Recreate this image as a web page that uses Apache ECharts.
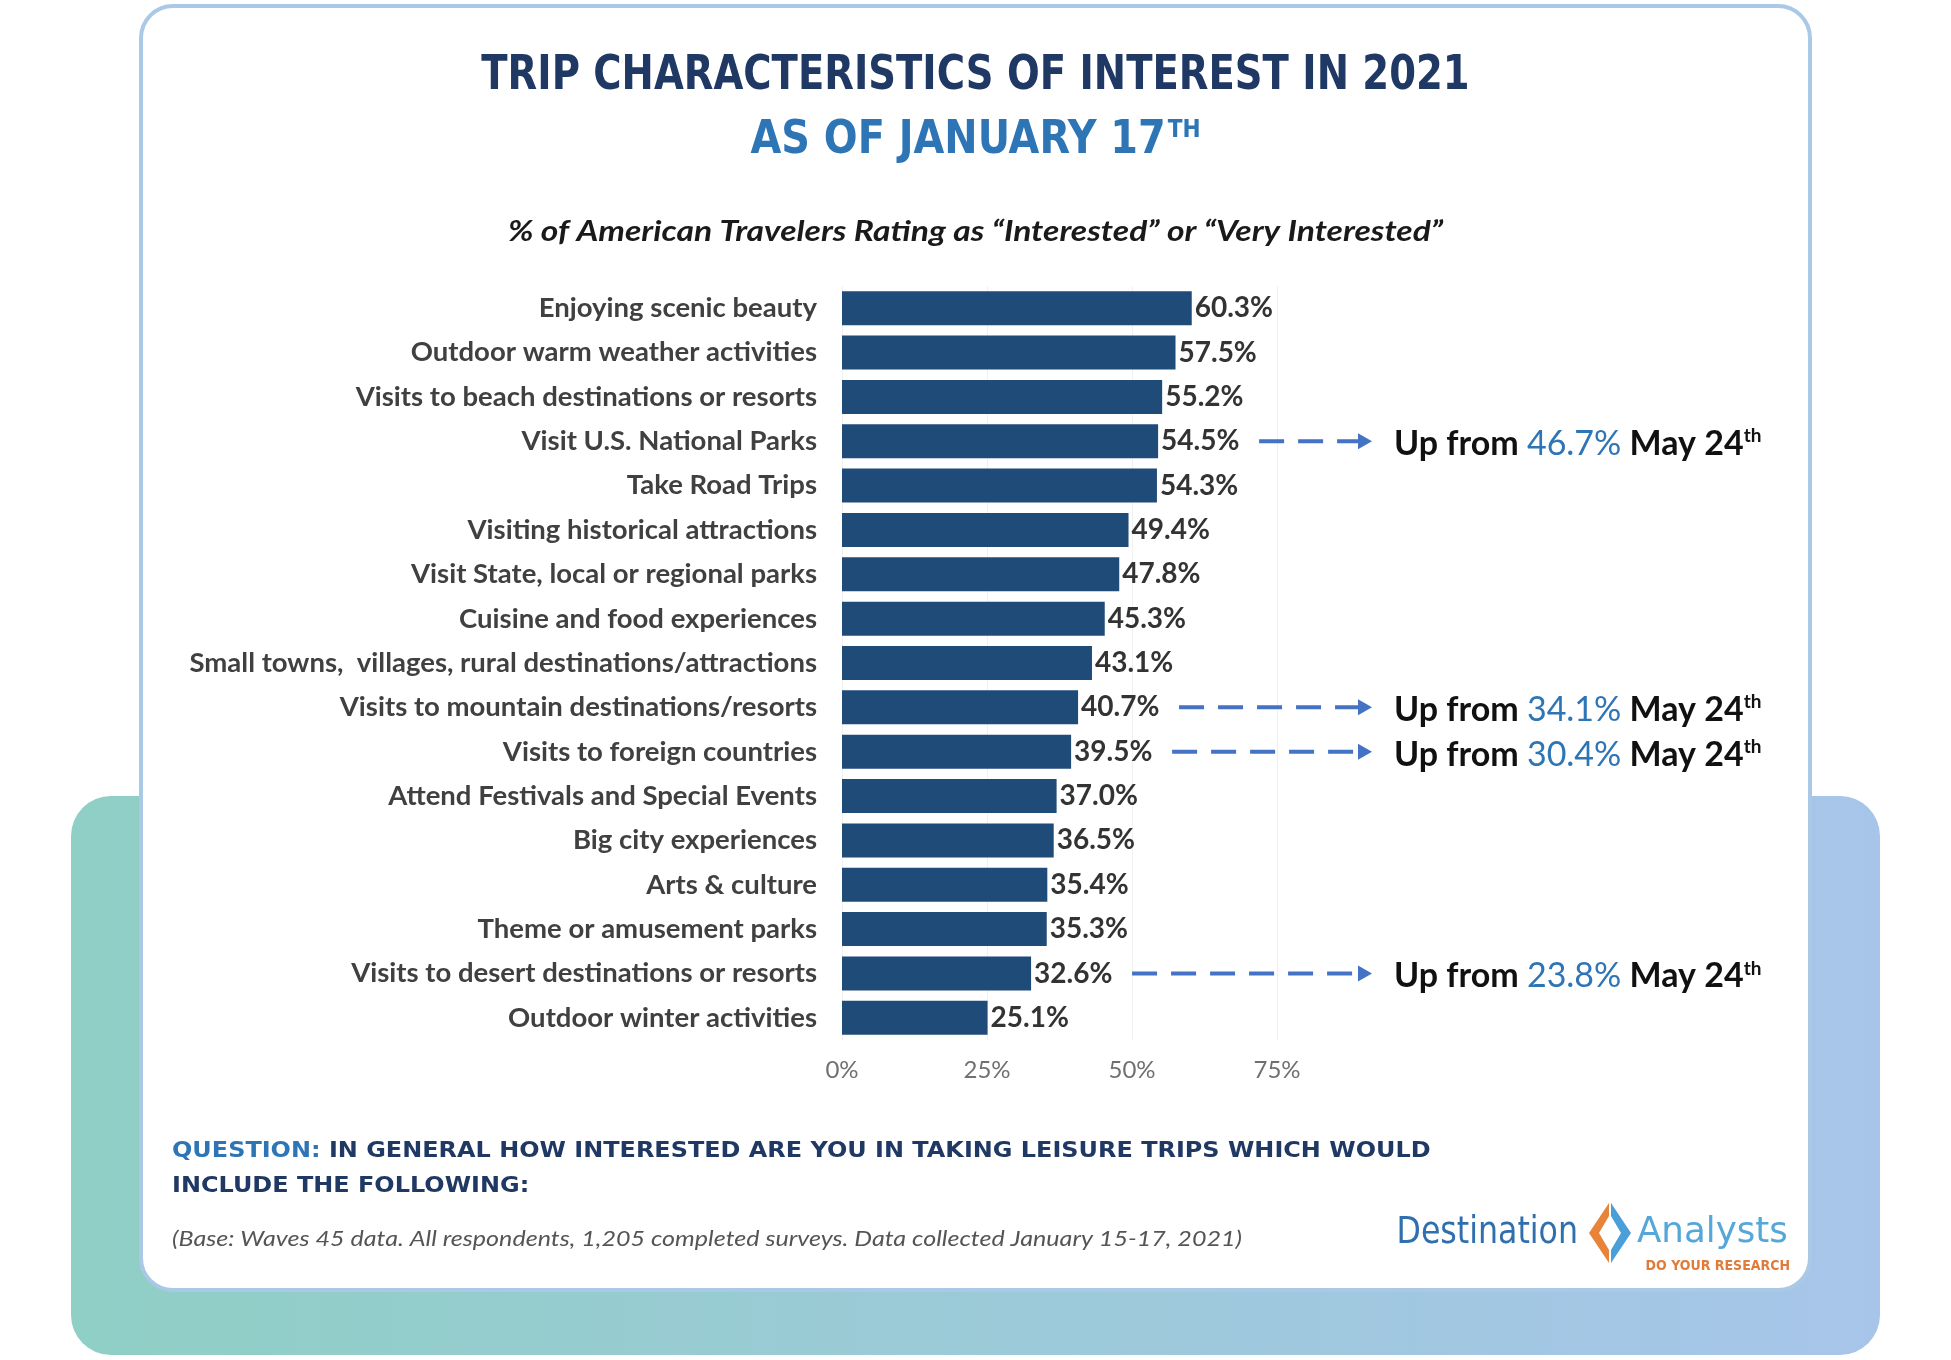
<!DOCTYPE html>
<html>
<head>
<meta charset="utf-8">
<script src="https://cdn.jsdelivr.net/npm/echarts@6/dist/echarts.min.js"></script>
<style>
html,body{margin:0;padding:0;background:#ffffff;}
#chart{width:1951px;height:1360px;}
</style>
</head>
<body>
<div id="chart"></div>
<script>
// ---------- DATA ----------
const categories = [
  'Enjoying scenic beauty',
  'Outdoor warm weather activities',
  'Visits to beach destinations or resorts',
  'Visit U.S. National Parks',
  'Take Road Trips',
  'Visiting historical attractions',
  'Visit State, local or regional parks',
  'Cuisine and food experiences',
  'Small towns,  villages, rural destinations/attractions',
  'Visits to mountain destinations/resorts',
  'Visits to foreign countries',
  'Attend Festivals and Special Events',
  'Big city experiences',
  'Arts & culture',
  'Theme or amusement parks',
  'Visits to desert destinations or resorts',
  'Outdoor winter activities'
];
const values = [60.3, 57.5, 55.2, 54.5, 54.3, 49.4, 47.8, 45.3, 43.1, 40.7, 39.5, 37.0, 36.5, 35.4, 35.3, 32.6, 25.1];
const annotatedCategories = ['Visit U.S. National Parks', 'Visits to mountain destinations/resorts', 'Visits to foreign countries', 'Visits to desert destinations or resorts'];
const may24Values = [46.7, 34.1, 30.4, 23.8];
const xTickMin = 0, xTickMax = 75, xTickStep = 25;

const titleLine1 = 'TRIP CHARACTERISTICS OF INTEREST IN 2021';
const titleLine2 = 'AS OF JANUARY 17';
const subTitle = '% of American Travelers Rating as \u201CInterested\u201D or \u201CVery Interested\u201D';
const questionLabel = 'QUESTION:';
const questionLine1 = ' IN GENERAL HOW INTERESTED ARE YOU IN TAKING LEISURE TRIPS WHICH WOULD';
const questionLine2 = 'INCLUDE THE FOLLOWING:';
const baseNote = '(Base: Waves 45 data. All respondents, 1,205 completed surveys. Data collected January 15-17, 2021)';

// ---------- BUILD ----------
const annotationData = annotatedCategories.map((c, i) => {
  const idx = categories.indexOf(c);
  return [values[idx], idx, may24Values[i]];
});

const navy = '#1f3864';
const blue = '#2e75b6';
const barColor = '#1f4b78';
const condensed = '"Liberation Sans Narrow","DejaVu Sans Condensed","Roboto",sans-serif';

const chart = echarts.init(document.getElementById('chart'), null, {renderer: 'canvas'});

chart.setOption({
  animation: false,
  backgroundColor: '#ffffff',
  grid: {left: 842, top: 286, width: 435, height: 754, containLabel: false},
  xAxis: {
    type: 'value', min: xTickMin, max: xTickMax, interval: xTickStep,
    axisLine: {show: false}, axisTick: {show: false},
    splitLine: {show: true, lineStyle: {color: '#f0f0f0', width: 1}},
    axisLabel: {formatter: '{value}%', color: '#707070', fontSize: 24, fontFamily: 'Lato', margin: 18}
  },
  yAxis: {
    type: 'category', data: categories, inverse: true,
    axisLine: {show: false}, axisTick: {show: false},
    axisLabel: {color: '#404040', fontSize: 27.5, fontFamily: 'Lato', fontWeight: 'bold', margin: 25}
  },
  series: [
    {
      type: 'bar', data: values, barWidth: 34, z: 3,
      itemStyle: {color: barColor},
      label: {
        show: true, position: 'right', distance: 3,
        formatter: p => p.value.toFixed(1) + '%',
        color: '#333333', fontSize: 28, fontFamily: 'Lato', fontWeight: 'bold'
      }
    },
    {
      type: 'custom', z: 4,
      data: annotationData,
      encode: {x: 0, y: 1},
      renderItem: function (params, api) {
        const p = api.coord([api.value(0), api.value(1)]);
        const cs = params.coordSys;
        const y = p[1];
        const startX = p[0] + 101;
        const endX = cs.x + cs.width + 95;
        const may = api.value(2);
        return {
          type: 'group',
          children: [
            {type: 'line', shape: {x1: startX, y1: y, x2: endX - 12, y2: y},
             style: {stroke: '#4472c4', lineWidth: 4, lineDash: [25, 14]}},
            {type: 'polygon', shape: {points: [[endX - 14, y - 8], [endX, y], [endX - 14, y + 8]]},
             style: {fill: '#4472c4'}},
            {type: 'text', x: endX + 22, y: y + 3,
             style: {
               text: '{a|Up from }{b|' + may.toFixed(1) + '%}{a| May 24}{s|th}',
               textVerticalAlign: 'middle', textAlign: 'left',
               rich: {
                 a: {fontSize: 34, fontFamily: 'Lato', fontWeight: 'bold', fill: '#111111', color: '#111111'},
                 b: {fontSize: 34, fontFamily: 'Lato', fontWeight: 'normal', fill: blue, color: blue},
                 s: {fontSize: 19, fontFamily: 'Lato', fontWeight: 'bold', fill: '#111111', color: '#111111', verticalAlign: 'top', padding: [0, 0, 16, 0]}
               }
             }}
          ]
        };
      }
    }
  ],
  graphic: [
    {type: 'rect', z: -20, shape: {x: 71, y: 796, width: 1809, height: 559, r: 40},
     style: {fill: new echarts.graphic.LinearGradient(0, 0, 1, 0, [{offset: 0, color: '#8fcfc5'}, {offset: 1, color: '#a7c5ea'}])}},
    {type: 'rect', z: -10, shape: {x: 141, y: 6, width: 1669, height: 1284, r: 32},
     style: {fill: '#ffffff', stroke: '#a9c9e6', lineWidth: 4}},
    {type: 'text', z: 10, x: 975.5, y: 77, scaleX: 0.893,
     style: {text: titleLine1, fill: navy, font: 'bold 48px ' + condensed, textAlign: 'center', textVerticalAlign: 'middle'}},
    {type: 'text', z: 10, x: 975.5, y: 141, scaleX: 0.962,
     style: {text: '{m|' + titleLine2 + '}{s|TH}', textAlign: 'center', textVerticalAlign: 'middle',
       rich: {m: {fill: blue, color: blue, fontSize: 46, fontWeight: 'bold', fontFamily: condensed},
              s: {fill: blue, color: blue, fontSize: 25, fontWeight: 'bold', fontFamily: condensed, verticalAlign: 'top', padding: [0, 0, 21, 2]}}}},
    {type: 'text', z: 10, x: 975.5, y: 232, scaleX: 1.2,
     style: {text: subTitle, fill: '#1a1a1a', font: 'italic bold 28px Lato', textAlign: 'center', textVerticalAlign: 'middle'}},
    {type: 'text', z: 10, x: 172, y: 1152, scaleX: 1.14,
     style: {text: '{q|' + questionLabel + '}{n|' + questionLine1 + '}', textAlign: 'left', textVerticalAlign: 'middle',
       rich: {q: {fill: blue, color: blue, fontSize: 21, fontWeight: 'bold', fontFamily: '"DejaVu Sans"'},
              n: {fill: navy, color: navy, fontSize: 21, fontWeight: 'bold', fontFamily: '"DejaVu Sans"'}}}},
    {type: 'text', z: 10, x: 172, y: 1187, scaleX: 1.14,
     style: {text: questionLine2, fill: navy, font: 'bold 21px "DejaVu Sans"', textAlign: 'left', textVerticalAlign: 'middle'}},
    {type: 'text', z: 10, x: 172, y: 1239, scaleX: 1.14,
     style: {text: baseNote, fill: '#555555', font: 'italic 22px Lato', textAlign: 'left', textVerticalAlign: 'middle'}},
    // logo
    {type: 'text', z: 10, x: 1578, y: 1233, scaleX: 0.95,
     style: {text: 'Destination', fill: '#2f6fad', font: '37px ' + condensed, textAlign: 'right', textVerticalAlign: 'middle'}},
    {type: 'polygon', z: 10, shape: {points: [[1609, 1203], [1609, 1216], [1599, 1233], [1609, 1250], [1609, 1263], [1589, 1233]]},
     style: {fill: '#e8833a'}},
    {type: 'polygon', z: 10, shape: {points: [[1611, 1203], [1631, 1233], [1611, 1263], [1611, 1250], [1621, 1233], [1611, 1216]]},
     style: {fill: '#4a9fd8'}},
    {type: 'text', z: 10, x: 1637, y: 1233, scaleX: 1.1,
     style: {text: 'Analysts', fill: '#55a7d8', font: '36px ' + condensed, textAlign: 'left', textVerticalAlign: 'middle'}},
    {type: 'text', z: 10, x: 1790, y: 1266,
     style: {text: 'DO YOUR RESEARCH', fill: '#e07b39', font: 'bold 14px ' + condensed, textAlign: 'right', textVerticalAlign: 'middle'}}
  ]
});
</script>
</body>
</html>
